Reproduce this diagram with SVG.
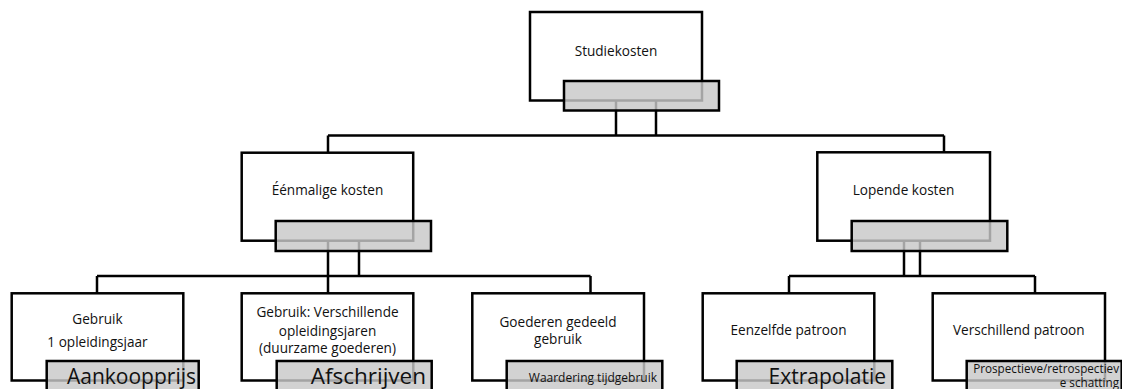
<svg xmlns="http://www.w3.org/2000/svg" width="1122" height="389" viewBox="0 0 1122 389">
<defs>
<style>
.box{fill:#ffffff;stroke:#000000;stroke-width:2.5}
.tag{fill:#c8c8c8;fill-opacity:0.82;stroke:#000000;stroke-width:2.5}
.ln{fill:none;stroke:#000000;stroke-width:2.5}
.t{font-family:"Open Sans","Noto Sans","Liberation Sans",sans-serif;font-size:13.6px;fill:#111111;text-anchor:middle}
.big{font-family:"Open Sans","Noto Sans","Liberation Sans",sans-serif;font-size:21px;fill:#111111;text-anchor:end}
.sm{font-family:"Open Sans","Noto Sans","Liberation Sans",sans-serif;font-size:12px;fill:#111111;text-anchor:end}
</style>
</defs>
<rect width="1122" height="389" fill="#ffffff"/>
<g id="connectors">
<path class="ln" d="M616,100 V135.5 M656,100 V135.5 M328,135.5 H944 M328,135.5 V152.7 M944,135.5 V152.3"/>
<path class="ln" d="M328,240.7 V276 M359,240.7 V276 M97,276 H590.5 M97,276 V293.3 M328,276 V293.3 M590.5,276 V293.3"/>
<path class="ln" d="M904,240.7 V276 M920,240.7 V276 M789,276 H1035 M789,276 V293.3 M1035,276 V293.3"/>
</g>
<g id="studiekosten">
<rect class="box" x="530" y="12" width="172" height="88.5"/>
<text class="t" x="616" y="56">Studiekosten</text>
<rect class="tag" x="564" y="81" width="155" height="29.5"/>
</g>
<g id="eenmalige">
<rect class="box" x="241.7" y="152.7" width="171.5" height="88"/>
<text class="t" x="327.5" y="195">Éénmalige kosten</text>
<rect class="tag" x="275.7" y="221" width="155.3" height="30"/>
</g>
<g id="lopende">
<rect class="box" x="817.3" y="152.3" width="172.7" height="88.4"/>
<text class="t" x="903.6" y="195">Lopende kosten</text>
<rect class="tag" x="851.7" y="221" width="155.6" height="30"/>
</g>
<g id="gebruik1">
<rect class="box" x="11.7" y="293.3" width="171.6" height="87.2"/>
<text class="t" x="97.5" y="324">Gebruik</text>
<text class="t" x="97.5" y="346.7">1 opleidingsjaar</text>
<rect class="tag" x="46.7" y="361" width="152" height="32"/>
<text class="big" x="196" y="384">Aankoopprijs</text>
</g>
<g id="gebruik2">
<rect class="box" x="241.7" y="293.3" width="171.6" height="87.2"/>
<text class="t" x="327.5" y="317.3">Gebruik: Verschillende</text>
<text class="t" x="327.5" y="335.5">opleidingsjaren</text>
<text class="t" x="327.5" y="353">(duurzame goederen)</text>
<rect class="tag" x="276.7" y="361" width="155" height="32"/>
<text class="big" x="426" y="384" style="font-size:22.5px">Afschrijven</text>
</g>
<g id="gedeeld">
<rect class="box" x="472.3" y="293.3" width="171.7" height="87.2"/>
<text class="t" x="558" y="326.7">Goederen gedeeld</text>
<text class="t" x="558" y="343.5">gebruik</text>
<rect class="tag" x="506.7" y="361" width="155.6" height="32"/>
<text class="sm" x="657" y="382.3">Waardering tijdgebruik</text>
</g>
<g id="eenzelfde">
<rect class="box" x="702.7" y="293.3" width="171.6" height="87.2"/>
<text class="t" x="788.5" y="335">Eenzelfde patroon</text>
<rect class="tag" x="736.7" y="361" width="155.6" height="32"/>
<text class="big" x="886" y="384">Extrapolatie</text>
</g>
<g id="verschillend">
<rect class="box" x="932.7" y="293.3" width="172.3" height="87.2"/>
<text class="t" x="1018.8" y="335">Verschillend patroon</text>
<rect class="tag" x="966.7" y="361" width="155" height="32"/>
<text class="sm" x="1119" y="372.5" style="font-size:11.7px">Prospectieve/retrospectiev</text>
<text class="sm" x="1119" y="386.5" style="font-size:11.7px">e schatting</text>
</g>
</svg>
